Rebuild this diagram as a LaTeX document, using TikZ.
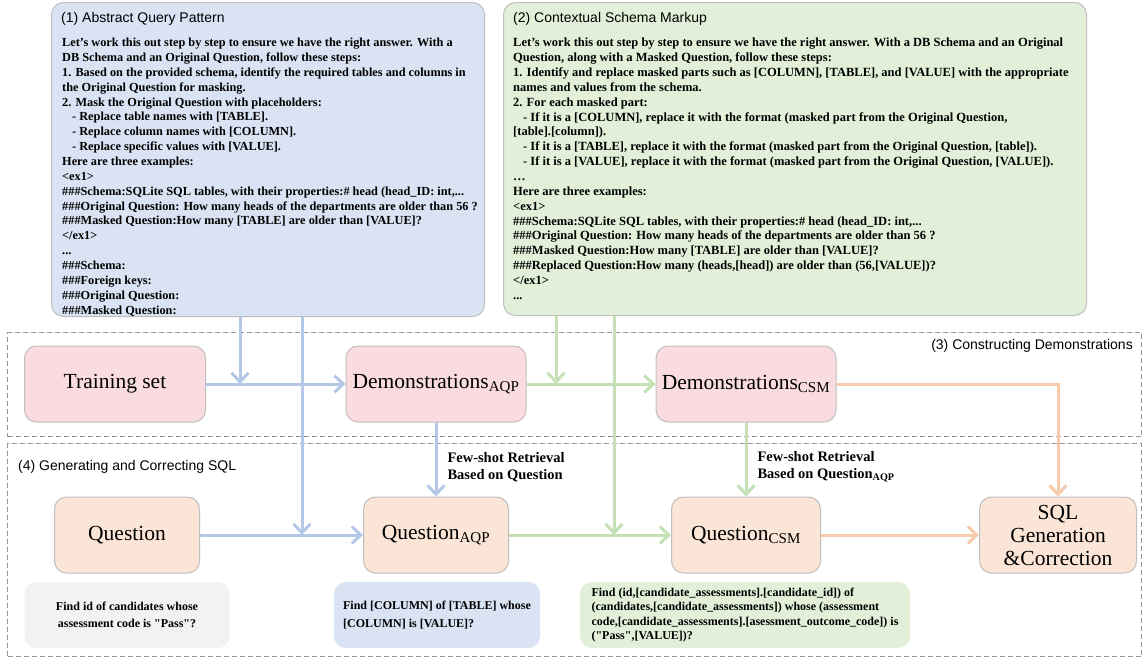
\documentclass[tikz,border=0pt]{standalone}
\usepackage{fontspec}
\setmainfont{Liberation Serif}
\setsansfont{Liberation Sans}
\usepackage{tikz}
\usetikzlibrary{arrows.meta, positioning, calc}
\definecolor{aqpfill}{RGB}{218, 227, 243}
\definecolor{csmfill}{RGB}{226, 240, 217}
\definecolor{demofill}{RGB}{249, 219, 224}
\definecolor{questfill}{RGB}{251, 229, 214}
\definecolor{plainfill}{RGB}{242, 242, 242}
\definecolor{bluearr}{RGB}{180, 199, 231}
\definecolor{greenarr}{RGB}{197, 224, 180}
\definecolor{orangearr}{RGB}{248, 203, 173}
\definecolor{edgegray}{RGB}{191, 191, 191}
\definecolor{dashgray}{RGB}{150, 150, 150}
\tikzset{
  panel/.style={draw=edgegray, line width=1pt, rounded corners=12pt, anchor=north west, inner sep=0pt},
  heading/.style={font=\sffamily\fontsize{14}{16}\selectfont, inner sep=0pt},
  prompt/.style={font=\fontsize{12.3}{14.85}\selectfont\bfseries, align=left, inner sep=0pt, anchor=north west},
  section/.style={draw=dashgray, line width=1pt, dash pattern=on 5pt off 3pt, anchor=north west, inner sep=0pt},
  stage/.style={draw=edgegray, line width=1pt, rounded corners=12pt, minimum height=76pt, inner sep=2pt,
                font=\fontsize{21.5}{23}\selectfont, align=center},
  note/.style={rounded corners=12pt, minimum height=66pt, inner sep=0pt,
               font=\fontsize{12}{17.4}\selectfont\bfseries},
  fewshot/.style={text=black, font=\fontsize{14.5}{17}\selectfont\bfseries, align=left, anchor=west, inner sep=0pt},
  link/.style={line width=3pt, -{Straight Barb[length=9pt, width=17pt, line width=3pt]}},
}

\begin{document}
\begin{tikzpicture}[x=1pt, y=-1pt]

  \fill[white] (0, 0) rectangle (1145, 659);
  \useasboundingbox (0, 0) rectangle (1145, 659);

  % (1) and (2): the two prompts
  \node[panel, fill=aqpfill, minimum width=433, minimum height=314] (aqp) at (51, 2) {};
  \node[heading, anchor=west] (aqptitle) at (61, 19) {(1) Abstract Query Pattern};
  \node[prompt] (aqptext) at (62, 38) {Let's work this out step by step to ensure we have the right answer. With a\\
    DB Schema and an Original Question, follow these steps:\\
    1. Based on the provided schema, identify the required tables and columns in\\
    the Original Question for masking.\\
    2. Mask the Original Question with placeholders:\\
    \hspace*{10pt}- Replace table names with [TABLE].\\
    \hspace*{10pt}- Replace column names with [COLUMN].\\
    \hspace*{10pt}- Replace specific values with [VALUE].\\
    Here are three examples:\\
    <ex1>\\
    \#\#\#Schema:SQLite SQL tables, with their properties:\# head (head\_ID: int,...\\
    \#\#\#Original Question: How many heads of the departments are older than 56 ?\\
    \#\#\#Masked Question:How many [TABLE] are older than [VALUE]?\\
    </ex1>\\
    ...\\
    \#\#\#Schema:\\
    \#\#\#Foreign keys:\\
    \#\#\#Original Question:\\
    \#\#\#Masked Question:};

  \node[panel, fill=csmfill, minimum width=583, minimum height=313] (csm) at (503, 2) {};
  \node[heading, anchor=west] (csmtitle) at (513, 19) {(2) Contextual Schema Markup};
  \node[prompt, font=\fontsize{12.5}{14.85}\selectfont\bfseries] (csmtext) at (513, 38) {Let's work this out step by step to ensure we have the right answer. With a DB Schema and an Original\\
    Question, along with a Masked Question, follow these steps:\\
    1. Identify and replace masked parts such as [COLUMN], [TABLE], and [VALUE] with the appropriate\\
    names and values from the schema.\\
    2. For each masked part:\\
    \hspace*{10pt}- If it is a [COLUMN], replace it with the format (masked part from the Original Question,\\
    {}[table].[column]).\\
    \hspace*{10pt}- If it is a [TABLE], replace it with the format (masked part from the Original Question, [table]).\\
    \hspace*{10pt}- If it is a [VALUE], replace it with the format (masked part from the Original Question, [VALUE]).\\
    …\\
    Here are three examples:\\
    <ex1>\\
    \#\#\#Schema:SQLite SQL tables, with their properties:\# head (head\_ID: int,...\\
    \#\#\#Original Question: How many heads of the departments are older than 56 ?\\
    \#\#\#Masked Question:How many [TABLE] are older than [VALUE]?\\
    \#\#\#Replaced Question:How many (heads,[head]) are older than (56,[VALUE])?\\
    </ex1>\\
    ...};

  % (3) and (4): dashed sections
  \node[section, minimum width=1134, minimum height=104] (build) at (7, 332) {};
  \node[heading, anchor=east] (buildlabel) at (1133, 346) {(3) Constructing Demonstrations};
  \node[section, minimum width=1134, minimum height=213] (generate) at (7, 443) {};
  \node[heading, anchor=west] (generatelabel) at (18, 467) {(4) Generating and Correcting SQL};

  \node[stage, fill=demofill, minimum width=181] (train) at (115, 384) {Training set};
  \node[stage, fill=demofill, minimum width=180] (demoaqp) at (436, 384) {Demonstrations\textsubscript{AQP}};
  \node[stage, fill=demofill, minimum width=180] (democsm) at (746, 384) {Demonstrations\textsubscript{CSM}};

  \node[stage, fill=questfill, minimum width=145] (quest) at (127, 535) {Question};
  \node[stage, fill=questfill, minimum width=145] (qaqp) at (436, 535) {Question\textsubscript{AQP}};
  \node[stage, fill=questfill, minimum width=149] (qcsm) at (746, 535) {Question\textsubscript{CSM}};
  \node[stage, fill=questfill, minimum width=157] (sql) at (1058, 535) {SQL\\Generation\\\&Correction};

  \node[note, fill=plainfill, minimum width=205, align=center] (questex) at (127, 615)
    {Find id of candidates whose\\assessment code is \textquotedbl Pass\textquotedbl?};
  \node[note, fill=aqpfill, minimum width=206, align=left] (aqpex) at (437, 615)
    {Find [COLUMN] of [TABLE] whose\\{}[COLUMN] is [VALUE]?};
  \node[note, fill=csmfill, minimum width=330, align=left, font=\fontsize{12}{14.2}\selectfont\bfseries] (csmex) at (745, 615)
    {Find (id,[candidate\_assessments].[candidate\_id]) of\\
     (candidates,[candidate\_assessments]) whose (assessment\\
     code,[candidate\_assessments].[asessment\_outcome\_code]) is\\
     (\textquotedbl Pass\textquotedbl,[VALUE])?};

  \coordinate (aqpjoin) at (240, 384);
  \coordinate (aqpdrop) at (302, 535);
  \coordinate (csmjoin) at (556, 384);
  \coordinate (csmdrop) at (614, 535);

  \draw[link, bluearr] (train) -- (demoaqp);
  \draw[link, bluearr] (quest) -- (qaqp);
  \draw[link, greenarr] (demoaqp) -- (democsm);
  \draw[link, greenarr] (qaqp) -- (qcsm);
  \draw[link, orangearr] (qcsm) -- (sql);
  \draw[link, orangearr] (democsm) -| (sql);

  \draw[link, bluearr] (aqp.south -| aqpjoin) -- (aqpjoin);
  \draw[link, bluearr] (aqp.south -| aqpdrop) -- (aqpdrop);
  \draw[link, greenarr] (csm.south -| csmjoin) -- (csmjoin);
  \draw[link, greenarr] (csm.south -| csmdrop) -- (csmdrop);

  \draw[link, bluearr] (demoaqp) -- (qaqp)
    node[fewshot, pos=0.6, xshift=10pt] (aqpretrieve) {Few-shot Retrieval\\Based on Question};
  \draw[link, greenarr] (democsm) -- (qcsm)
    node[fewshot, pos=0.6, xshift=10pt] (csmretrieve) {Few-shot Retrieval\\Based on Question\textsubscript{AQP}};

\end{tikzpicture}
\end{document}
